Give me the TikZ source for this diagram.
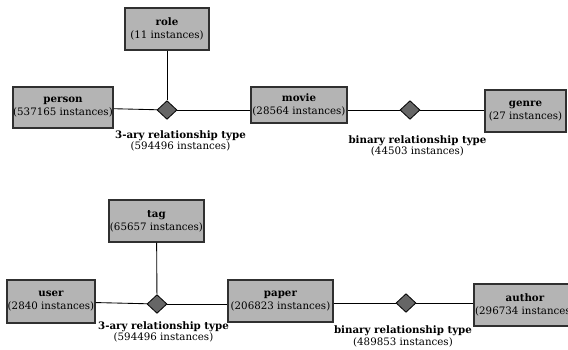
\documentclass[tikz,border=0pt]{standalone}
\usepackage{fontspec}
\setmainfont{DejaVu Serif}
\usetikzlibrary{shapes.geometric}
\definecolor{boxfill}{HTML}{B4B4B4}
\definecolor{dfill}{HTML}{666666}
\definecolor{boxline}{HTML}{303030}
\tikzset{
  ent/.style={draw=boxline, line width=1pt, fill=boxfill, rectangle, inner sep=0pt, align=center,
    font=\fontsize{7.7}{9.75}\selectfont},
  rel/.style={draw=black, line width=0.6pt, fill=dfill, diamond, inner sep=0pt,
    minimum width=15pt, minimum height=14pt},
  lbl/.style={align=center, inner sep=0pt, font=\fontsize{7.7}{8.8}\selectfont},
  conn/.style={draw=black, line width=0.65pt}
}
\begin{document}
\begin{tikzpicture}[x=0.75pt,y=-0.75pt]
\useasboundingbox (0,0) rectangle (568,350);
% top diagram
\node[ent, minimum width=63pt, minimum height=31.5pt] (role) at (167,29) {\textbf{role}\\(11 instances)};
\node[ent, minimum width=75pt, minimum height=30.75pt] (person) at (63,107.5) {\textbf{person}\\(537165 instances)};
\node[rel] (d1) at (167,110) {};
\node[ent, minimum width=72pt, minimum height=27pt] (movie) at (299,105) {\textbf{movie}\\(28564 instances)};
\node[rel] (d2) at (410,110) {};
\node[ent, minimum width=60.75pt, minimum height=31.5pt] (genre) at (525.5,111) {\textbf{genre}\\(27 instances)};
\node[lbl] (l1) at (180.5,141) {\textbf{3-ary relationship type}\\(594496 instances)};
\node[lbl] (l2) at (417.5,146) {\textbf{binary relationship type}\\(44503 instances)};
\draw[conn] (role) -- (d1);
\draw[conn] (person) -- (d1);
\draw[conn] (d1) -- (d1 -| movie.west);
\draw[conn] (d2 -| movie.east) -- (d2);
\draw[conn] (d2) -- (d2 -| genre.west);
% bottom diagram
\node[ent, minimum width=71.25pt, minimum height=31.5pt] (tag) at (156.5,221) {\textbf{tag}\\(65657 instances)};
\node[ent, minimum width=66pt, minimum height=32.25pt] (user) at (51,301.5) {\textbf{user}\\(2840 instances)};
\node[rel] (d3) at (157,304) {};
\node[ent, minimum width=78.75pt, minimum height=31.5pt] (paper) at (280.5,301) {\textbf{paper}\\(206823 instances)};
\node[rel] (d4) at (406,303) {};
\node[ent, minimum width=76.5pt, minimum height=31.5pt] (author) at (525,305) {\textbf{author}\\(296734 instances)};
\node[lbl] (l3) at (163.5,332) {\textbf{3-ary relationship type}\\(594496 instances)};
\node[lbl] (l4) at (403,336.5) {\textbf{binary relationship type}\\(489853 instances)};
\draw[conn] (tag) -- (d3);
\draw[conn] (user) -- (d3);
\draw[conn] (d3) -- (d3 -| paper.west);
\draw[conn] (d4 -| paper.east) -- (d4);
\draw[conn] (d4) -- (d4 -| author.west);
\end{tikzpicture}
\end{document}
